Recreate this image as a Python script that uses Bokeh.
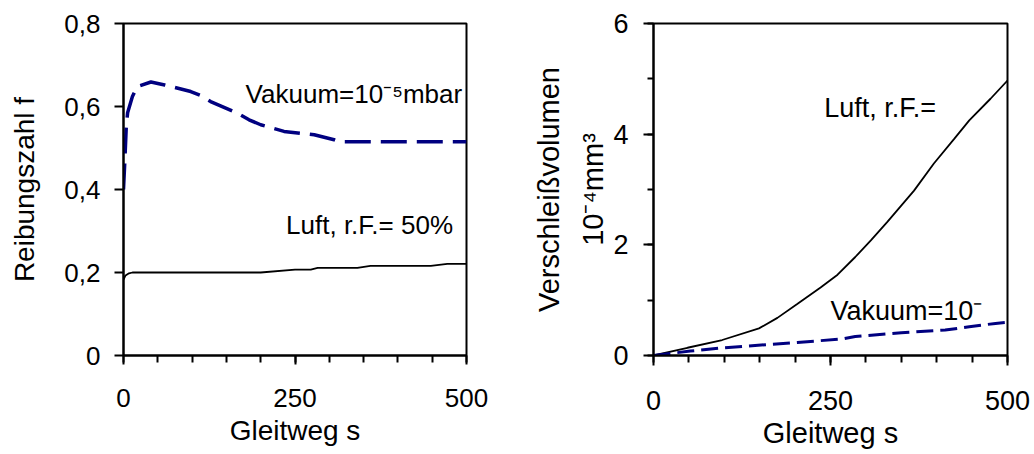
from bokeh.plotting import figure
from bokeh.models import FixedTicker, CustomJSTickFormatter, Label, Range1d
from bokeh.layouts import row
from bokeh.embed import file_html
from bokeh.resources import INLINE

FONT = "Liberation Sans"
NAVY = "#000080"

# ---------------- data ----------------
# left: Reibungszahl f over Gleitweg s
s_luft_f = [0, 3, 8, 13, 200, 250, 273, 283, 341, 360, 448, 472, 500]
f_luft = [0.183, 0.193, 0.198, 0.200, 0.200, 0.207, 0.207, 0.211, 0.211, 0.216, 0.216, 0.221, 0.221]

s_vak_f = [0, 2, 4, 6, 13, 20, 40, 60, 98, 113, 127, 166, 183, 200, 234, 278, 307, 315, 500]
f_vak = [0.40, 0.47, 0.55, 0.585, 0.624, 0.648, 0.659, 0.652, 0.636, 0.626, 0.612, 0.584, 0.568,
         0.556, 0.540, 0.532, 0.520, 0.515, 0.515]

# right: Verschleissvolumen (10^-4 mm^3) over Gleitweg s
s_luft_w = [0, 48, 97, 149, 175, 203, 236, 260, 285, 307, 330, 368, 396, 425, 446, 476, 500]
w_luft = [0, 0.14, 0.28, 0.49, 0.68, 0.93, 1.23, 1.46, 1.78, 2.08, 2.41, 2.98, 3.47, 3.92, 4.25, 4.64, 4.97]

s_vak_w = [0, 52, 100, 152, 203, 267, 285, 300, 350, 412, 446, 483, 500]
w_vak = [0, 0.08, 0.14, 0.19, 0.235, 0.30, 0.345, 0.36, 0.41, 0.46, 0.52, 0.58, 0.60]

x_ticks = [0, 250, 500]
x_minor = [0, 50, 100, 150, 200, 250, 300, 350, 400, 450, 500]
f_ticks = [0, 0.2, 0.4, 0.6, 0.8]
w_ticks = [0, 2, 4, 6]
w_minor = [0, 1, 2, 3, 4, 5, 6]

x_label = "Gleitweg s"
f_label = "Reibungszahl f"
w_label = "Verschleißvolumen\n10⁻⁴mm³"


def style(p, tick_size, label_size):
    p.outline_line_color = "black"
    p.outline_line_width = 2
    p.xgrid.visible = False
    p.ygrid.visible = False
    p.background_fill_color = "white"
    p.border_fill_color = "white"
    for ax in p.axis:
        ax.axis_line_width = 2
        ax.axis_line_color = "black"
        ax.major_tick_line_width = 2
        ax.minor_tick_line_width = 2
        ax.major_tick_line_color = "black"
        ax.minor_tick_line_color = "black"
        ax.major_tick_in = 0
        ax.minor_tick_in = 0
        ax.major_label_text_font = FONT
        ax.major_label_text_font_size = tick_size
        ax.major_label_text_color = "black"
        ax.axis_label_text_font = FONT
        ax.axis_label_text_font_size = label_size
        ax.axis_label_text_font_style = "normal"
        ax.axis_label_text_color = "black"


def note(p, x, y, text, size):
    p.add_layout(Label(x=x, y=y, y_offset=9, text=text, text_font=FONT,
                       text_font_size=size, text_color="black", text_baseline="alphabetic"))


# ---------------- left figure ----------------
p1 = figure(width=508, height=454, output_backend="svg", toolbar_location=None,
            x_range=Range1d(0, 500), y_range=Range1d(0, 0.8),
            min_border_left=123, min_border_right=42, min_border_top=23, min_border_bottom=97)
style(p1, "26px", "28px")
p1.xaxis.ticker = FixedTicker(ticks=x_ticks, minor_ticks=x_minor)
p1.yaxis.ticker = FixedTicker(ticks=f_ticks, minor_ticks=[])
p1.yaxis.formatter = CustomJSTickFormatter(code="return tick == 0 ? '0' : tick.toFixed(1).replace('.', ',');")
p1.xaxis.major_tick_out = 9
p1.xaxis.minor_tick_out = 7
p1.yaxis.major_tick_out = 9
p1.yaxis.minor_tick_out = 0
p1.xaxis.major_label_standoff = 24
p1.yaxis.major_label_standoff = 14
p1.xaxis.axis_label = x_label
p1.xaxis.axis_label_standoff = 5
p1.yaxis.axis_label = f_label
p1.yaxis.axis_label_standoff = 21

p1.line(s_luft_f, f_luft, line_color="black", line_width=1.8)
p1.line(s_vak_f, f_vak, line_color=NAVY, line_width=3.5, line_dash="26 10")

note(p1, 178, 0.609, "Vakuum=10⁻⁵mbar", "26px")
note(p1, 237, 0.293, "Luft, r.F.= 50%", "26px")

# ---------------- right figure ----------------
p2 = figure(width=526, height=454, output_backend="svg", toolbar_location=None,
            x_range=Range1d(0, 500), y_range=Range1d(0, 6),
            min_border_left=145, min_border_right=27, min_border_top=23, min_border_bottom=99)
style(p2, "27px", "29px")
p2.xaxis.ticker = FixedTicker(ticks=x_ticks, minor_ticks=x_minor)
p2.yaxis.ticker = FixedTicker(ticks=w_ticks, minor_ticks=w_minor)
p2.xaxis.major_tick_out = 10
p2.xaxis.minor_tick_out = 7
p2.yaxis.major_tick_out = 10
p2.yaxis.minor_tick_out = 6
p2.xaxis.major_label_standoff = 25
p2.yaxis.major_label_standoff = 15
p2.xaxis.axis_label = x_label
p2.xaxis.axis_label_standoff = 4
p2.yaxis.axis_label = w_label
p2.yaxis.axis_label_text_line_height = 1.4
p2.yaxis.axis_label_standoff = 1

p2.line(s_luft_w, w_luft, line_color="black", line_width=1.8)
p2.line(s_vak_w, w_vak, line_color=NAVY, line_width=3, line_dash="17 7")

note(p2, 241, 4.31, "Luft, r.F.=", "27px")
note(p2, 250, 0.64, "Vakuum=10⁻", "27px")

layout = row(p1, p2, spacing=0)
open("out.html", "w").write(file_html(layout, INLINE))
